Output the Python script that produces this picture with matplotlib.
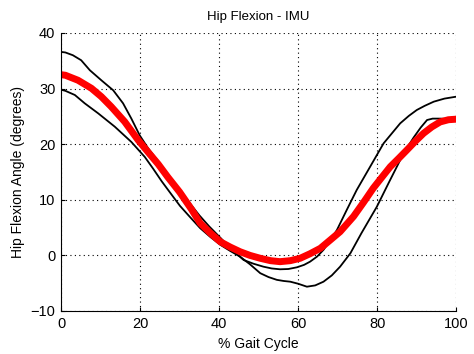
import matplotlib
matplotlib.use("Agg")
import matplotlib.pyplot as plt
import numpy as np

plt.rcParams['font.family'] = ['Liberation Sans', 'DejaVu Sans']

# Mean curve (red)
mean_x = [0, 1.1, 4.3, 7.7, 10.2, 12.7, 16.1, 19.5, 22, 24.6, 27, 30, 33, 35.2, 37.8, 40.3, 42.8, 45.3, 47.8, 50.4, 53, 55.4, 58, 60.5, 63, 65.6, 68, 70.6, 74, 76.5, 79, 81, 83.3, 85.5, 87.5, 89.6, 91.7, 93.8, 95.9, 98, 100]
mean_y = [32.5, 32.4, 31.5, 30.05, 28.55, 26.75, 24.05, 20.75, 18.6, 16.4, 14.1, 11.4, 8.3, 5.8, 4.0, 2.45, 1.5, 0.66, 0.0, -0.52, -0.95, -1.13, -0.95, -0.52, 0.3, 1.27, 2.7, 4.26, 7.0, 9.5, 12.1, 13.9, 15.95, 17.5, 18.95, 20.5, 21.95, 23.1, 24.0, 24.4, 24.5]

# Upper black curve
upper_x = [0, 1.1, 3, 5.1, 7.3, 10.2, 13.2, 15.7, 17.8, 19.9, 22, 24.6, 27, 30, 33, 35, 37.5, 40, 43, 46.2, 48.7, 51.2, 53.3, 55.4, 57.5, 59.7, 61.5, 63, 64.8, 66.4, 68, 69.8, 72.3, 74.8, 78.2, 81.6, 85.8, 88, 90, 92, 94.3, 97, 100]
upper_y = [36.6, 36.5, 36.0, 35.1, 33.3, 31.5, 29.7, 27.35, 24.6, 21.6, 19.3, 16.9, 14.5, 11.8, 9.0, 7.2, 5.2, 3.4, 1.2, -0.83, -1.5, -2.03, -2.35, -2.5, -2.45, -2.14, -1.7, -1.13, -0.2, 1.0, 2.6, 4.57, 8.2, 11.76, 15.95, 20.15, 23.75, 25.1, 26.15, 26.9, 27.65, 28.2, 28.55]

# Lower black curve
lower_x = [0, 1.1, 3.5, 6, 9.4, 13.6, 17.8, 21.2, 23.3, 25.5, 28, 30.1, 32.5, 35.2, 37.8, 40.3, 42.8, 45.3, 47.8, 50.4, 52.5, 54.6, 56.3, 58, 60, 62.2, 64.3, 66.4, 68.5, 70.6, 73.2, 76, 79.9, 83, 86.7, 89.2, 91, 92.6, 94, 96, 100]
lower_y = [29.8, 29.6, 28.85, 27.35, 25.55, 23.15, 20.4, 17.7, 15.6, 13.3, 10.9, 8.9, 7.0, 4.9, 3.3, 1.9, 0.8, -0.23, -1.6, -3.2, -3.9, -4.4, -4.6, -4.73, -5.1, -5.63, -5.4, -4.73, -3.6, -2.03, 0.38, 4.0, 8.76, 13.2, 18.4, 21.2, 23.0, 24.35, 24.6, 24.6, 24.5]

xticks = [0, 20, 40, 60, 80, 100]
yticks = [-10, 0, 10, 20, 30, 40]

fig = plt.figure(figsize=(4.74, 3.54), dpi=100)
ax = fig.add_axes([0.1287, 0.1215, 0.834, 0.7853])

ax.plot(upper_x, upper_y, color='black', lw=1.3)
ax.plot(lower_x, lower_y, color='black', lw=1.3)
ax.plot(mean_x, mean_y, color='#ff0000', lw=5, solid_capstyle='butt')

ax.set_xlim(0, 100)
ax.set_ylim(-10, 40)
ax.set_xticks(xticks)
ax.set_yticks(yticks)
ax.grid(True, color='black', linestyle=(0, (1, 3)), linewidth=0.8)
ax.spines['top'].set_visible(False)
ax.spines['right'].set_visible(False)
ax.tick_params(direction='in', length=3, labelsize=10.5, pad=4)
ax.set_title('Hip Flexion - IMU', fontsize=9.5, pad=9)
ax.set_xlabel('% Gait Cycle', fontsize=10, labelpad=5)
ax.set_ylabel('Hip Flexion Angle (degrees)', fontsize=10, labelpad=4)

fig.savefig('out.png', dpi=100)
